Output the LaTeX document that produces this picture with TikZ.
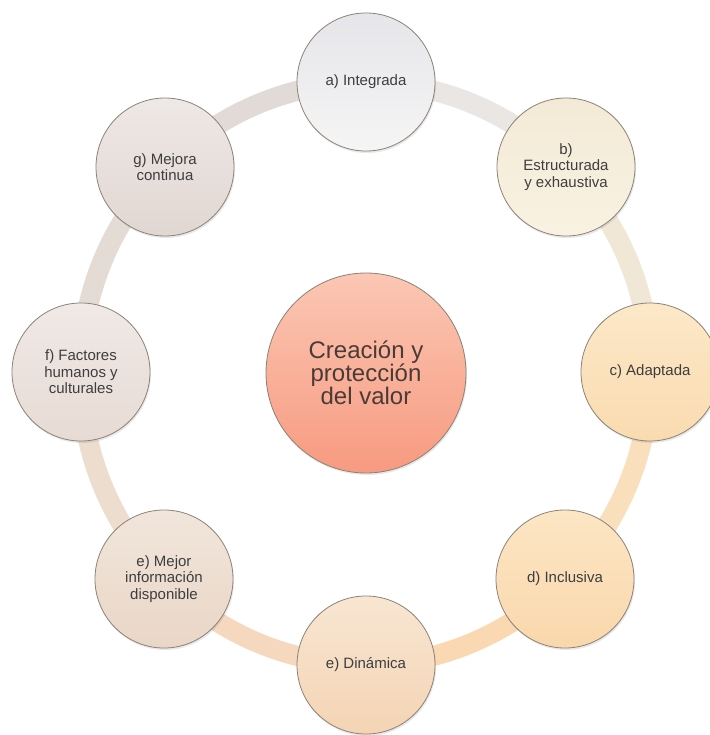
\documentclass[tikz,border=0pt]{standalone}
\usepackage{fontspec}
\setmainfont{Liberation Sans}
\usetikzlibrary{shadows,backgrounds}
\definecolor{bordc}{HTML}{8C8175}
\definecolor{txt}{HTML}{3E3E3E}
\definecolor{ctxt}{HTML}{4A3B36}
\definecolor{aT}{HTML}{E6E6EA}\definecolor{aB}{HTML}{F5F5F5}
\definecolor{bT}{HTML}{F3EAD6}\definecolor{bB}{HTML}{F9F2E2}
\definecolor{cT}{HTML}{FCE8C8}\definecolor{cB}{HTML}{FADBB0}
\definecolor{dT}{HTML}{FCE6C4}\definecolor{dB}{HTML}{FAD7AC}
\definecolor{eT}{HTML}{F8E6D2}\definecolor{eB}{HTML}{F4D4B4}
\definecolor{mT}{HTML}{F1E6DC}\definecolor{mB}{HTML}{E9D6C6}
\definecolor{fT}{HTML}{F0E9E6}\definecolor{fB}{HTML}{E7DBD4}
\definecolor{gT}{HTML}{EEE8E6}\definecolor{gB}{HTML}{E1D7D2}
\definecolor{zT}{HTML}{FBC7B4}\definecolor{zB}{HTML}{F79A80}
\definecolor{rab}{HTML}{E9E6E3}
\definecolor{rbc}{HTML}{F1E7D6}
\definecolor{rcd}{HTML}{F9DFBB}
\definecolor{rde}{HTML}{FAD8B1}
\definecolor{ree}{HTML}{F5D8BD}
\definecolor{ref}{HTML}{ECDDCF}
\definecolor{rfg}{HTML}{E5DBD5}
\definecolor{rga}{HTML}{E2DAD6}
\begin{document}
\begin{tikzpicture}[x=1pt,y=-1pt,
  item/.style={circle, draw=bordc, line width=0.8pt, minimum size=138pt,
    inner sep=0pt, align=center, font=\fontsize{15}{16.5}\selectfont, text=txt,
    drop shadow={shadow xshift=1pt, shadow yshift=-2pt, opacity=0.18}},
  core/.style={circle, draw=bordc, line width=0.8pt, minimum size=200pt,
    inner sep=0pt, align=center, font=\fontsize{24}{23}\selectfont, text=ctxt,
    top color=zT, bottom color=zB,
    drop shadow={shadow xshift=1pt, shadow yshift=-2pt, opacity=0.18}},
  ring/.style={line width=20pt, line cap=round}]
\useasboundingbox (0,0) rectangle (709,735);
\node[item, top color=aT, bottom color=aB] (a) at (366,82) {a) Integrada};
\node[item, top color=bT, bottom color=bB] (b) at (566,167) {b)\\Estructurada\\y exhaustiva};
\node[item, top color=cT, bottom color=cB] (c) at (650,372) {c) Adaptada};
\node[item, top color=dT, bottom color=dB] (d) at (565,579) {d) Inclusiva};
\node[item, top color=eT, bottom color=eB] (e) at (366,665) {e) Din\'amica};
\node[item, top color=mT, bottom color=mB] (m) at (164,579) {e) Mejor\\informaci\'on\\disponible};
\node[item, top color=fT, bottom color=fB] (f) at (81,372) {f) Factores\\humanos y\\culturales};
\node[item, top color=gT, bottom color=gB] (g) at (165,167) {g) Mejora\\continua};
\node[core] (z) at (366,373) {Creaci\'on y\\protecci\'on\\del valor};
\begin{pgfonlayer}{background}
\fill[white] (0,0) rectangle (709,735);
\draw[ring, draw=rab] (a.center) to[bend left=22.5, looseness=0.89] (b.center);
\draw[ring, draw=rbc] (b.center) to[bend left=22.5, looseness=0.89] (c.center);
\draw[ring, draw=rcd] (c.center) to[bend left=22.5, looseness=0.89] (d.center);
\draw[ring, draw=rde] (d.center) to[bend left=22.5, looseness=0.89] (e.center);
\draw[ring, draw=ree] (e.center) to[bend left=22.5, looseness=0.89] (m.center);
\draw[ring, draw=ref] (m.center) to[bend left=22.5, looseness=0.89] (f.center);
\draw[ring, draw=rfg] (f.center) to[bend left=22.5, looseness=0.89] (g.center);
\draw[ring, draw=rga] (g.center) to[bend left=22.5, looseness=0.89] (a.center);
\end{pgfonlayer}
\end{tikzpicture}
\end{document}
